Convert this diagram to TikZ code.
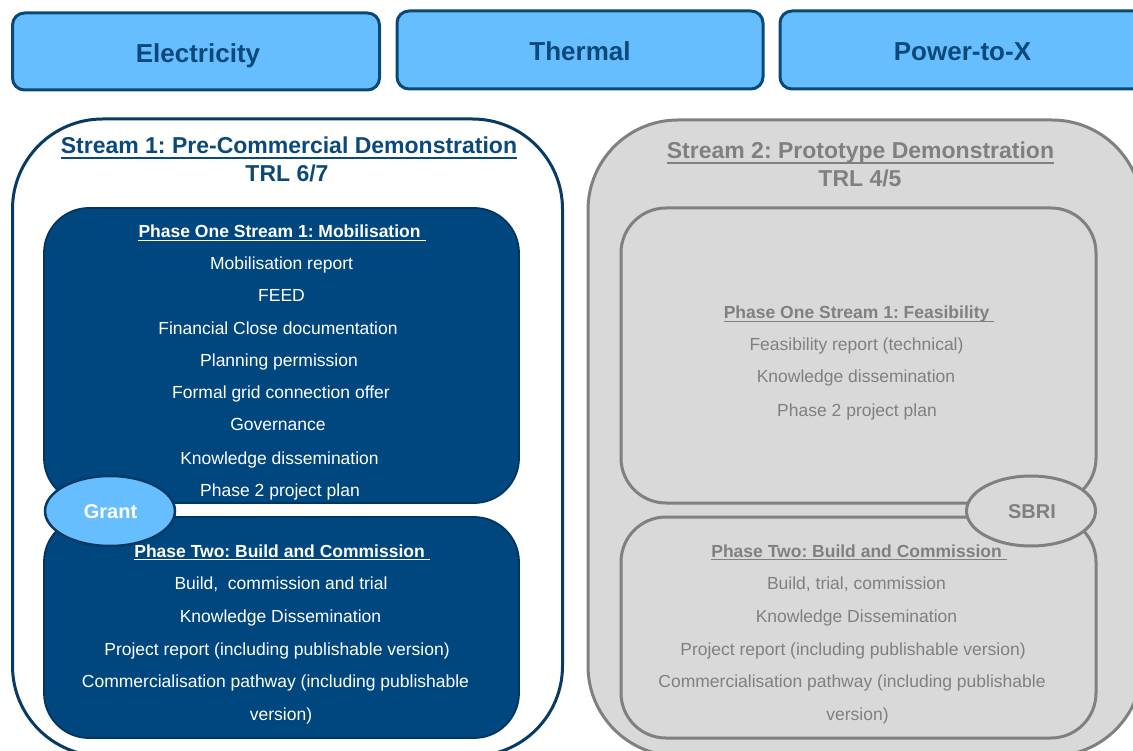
\documentclass[tikz,border=0pt]{standalone}
\usepackage{fontspec}
\setmainfont{Liberation Sans}
\usetikzlibrary{shapes.geometric}
\frenchspacing
\definecolor{lb}{RGB}{102,190,255}
\definecolor{topb}{RGB}{10,72,120}
\definecolor{ttxt}{RGB}{11,73,122}
\definecolor{dfill}{RGB}{0,71,127}
\definecolor{dbord}{RGB}{0,54,96}
\definecolor{sbord}{RGB}{8,58,99}
\definecolor{gfill}{RGB}{217,217,217}
\definecolor{gbord}{RGB}{128,128,128}
\definecolor{gtxt}{RGB}{128,128,128}
\tikzset{
  topbox/.style={draw=topb, line width=3pt, fill=lb, rounded corners=12pt, inner sep=0pt, minimum height=77pt},
  toplabel/.style={anchor=base, inner sep=0pt, text=ttxt, font=\fontsize{26}{30}\selectfont\bfseries},
  streambox/.style={line width=3pt, rounded corners=90pt, inner sep=0pt, minimum width=550pt, minimum height=637pt},
  phasebox/.style={rounded corners=45pt, inner sep=0pt, minimum width=475pt},
  darkphase/.style={phasebox, fill=dfill, draw=dbord, line width=1.8pt},
  grayphase/.style={phasebox, fill=gfill, draw=gbord, line width=3pt},
  stitle/.style={anchor=base, inner sep=0pt, font=\fontsize{23}{27}\selectfont\bfseries},
  item/.style={anchor=base, inner sep=0pt, font=\fontsize{17.5}{20}\selectfont},
  head/.style={item, font=\fontsize{17.5}{20}\selectfont\bfseries},
  wtxt/.style={text=white},
  gtx/.style={text=gtxt},
  oval/.style={ellipse, inner sep=0pt, minimum width=130pt, minimum height=70pt},
  ovallabel/.style={anchor=base, inner sep=0pt, font=\fontsize{20}{24}\selectfont\bfseries},
}
\begin{document}
\begin{tikzpicture}[x=1pt,y=-1pt]
\useasboundingbox (0,0) rectangle (1133,751);
\clip (0,0) rectangle (1133,751);
% top category boxes
\node[topbox, minimum width=367pt] (elec) at (196,51.5) {};
\node[topbox, minimum width=366pt, minimum height=78pt] (therm) at (580,50) {};
\node[topbox, minimum width=372pt, minimum height=78pt] (ptx) at (966,50) {};
\node[toplabel] (elecT) at (198,62.3) {Electricity};
\node[toplabel] (thermT) at (580,60.5) {Thermal};
\node[toplabel] (ptxT) at (962.5,60.5) {Power-to-X};
% stream containers
\node[streambox, draw=sbord, fill=white] (s1) at (287.5,437.5) {};
\node[streambox, draw=gbord, fill=gfill, minimum width=554pt, minimum height=636pt] (s2) at (865,438) {};
\node[stitle, text=ttxt] (s1t) at (289,154) {Stream 1: Pre-Commercial Demonstration};
\draw[ttxt, line width=2pt] ([yshift=-4pt]s1t.base west) -- ([yshift=-4pt]s1t.base east);
\node[stitle, text=ttxt] (s1r) at (287,182) {TRL 6/7};
\node[stitle, text=gtxt] (s2t) at (860.5,159) {Stream 2: Prototype Demonstration};
\draw[gtxt, line width=2pt] ([yshift=-4pt]s2t.base west) -- ([yshift=-4pt]s2t.base east);
\node[stitle, text=gtxt] (s2r) at (860,187) {TRL 4/5};
% phase boxes
\node[darkphase, minimum height=295pt] (p1a) at (281.5,355.5) {};
\node[darkphase, minimum height=221pt] (p2a) at (281.5,627.5) {};
\node[grayphase, minimum height=295pt] (p1b) at (858.5,355.5) {};
\node[grayphase, minimum height=221pt] (p2b) at (858.5,627.5) {};
% left phase one text
\node[head, wtxt] (h1a) at (282,238) {Phase One Stream 1: Mobilisation\ \ };
\draw[white, line width=1.4pt] ([yshift=-2.5pt]h1a.base west) -- ([yshift=-2.5pt]h1a.base east);
\node[item, wtxt] (a1) at (281.5,269.3) {Mobilisation report};
\node[item, wtxt] (a2) at (281.5,301.3) {FEED};
\node[item, wtxt] (a3) at (278,334.3) {Financial Close documentation};
\node[item, wtxt] (a4) at (279,366.3) {Planning permission};
\node[item, wtxt] (a5) at (281,398.3) {Formal grid connection offer};
\node[item, wtxt] (a6) at (278,430.3) {Governance};
\node[item, wtxt] (a7) at (279.5,464.5) {Knowledge dissemination};
\node[item, wtxt] (a8) at (280,496.5) {Phase 2 project plan};
% left phase two text
\node[head, wtxt] (h2a) at (282,557) {Phase Two: Build and Commission\ \ };
\draw[white, line width=1.4pt] ([yshift=-2.5pt]h2a.base west) -- ([yshift=-2.5pt]h2a.base east);
\node[item, wtxt] (b1) at (281,589) {Build, \ commission and trial};
\node[item, wtxt] (b2) at (280.5,622.5) {Knowledge Dissemination};
\node[item, wtxt] (b3) at (277,655) {Project report (including publishable version)};
\node[item, wtxt] (b4) at (275.5,687) {Commercialisation pathway (including publishable};
\node[item, wtxt] (b5) at (281,720.5) {version)};
% right phase one text
\node[head, gtx] (h1b) at (859,319) {Phase One Stream 1: Feasibility\ \ };
\draw[gtxt, line width=1.4pt] ([yshift=-2.5pt]h1b.base west) -- ([yshift=-2.5pt]h1b.base east);
\node[item, gtx] (c1) at (856.5,351) {Feasibility report (technical)};
\node[item, gtx] (c2) at (856,383) {Knowledge dissemination};
\node[item, gtx] (c3) at (857,416) {Phase 2 project plan};
% right phase two text
\node[head, gtx] (h2b) at (859,557) {Phase Two: Build and Commission\ \ };
\draw[gtxt, line width=1.4pt] ([yshift=-2.5pt]h2b.base west) -- ([yshift=-2.5pt]h2b.base east);
\node[item, gtx] (d1) at (856.5,589) {Build, trial, commission};
\node[item, gtx] (d2) at (856.5,622.5) {Knowledge Dissemination};
\node[item, gtx] (d3) at (853,655) {Project report (including publishable version)};
\node[item, gtx] (d4) at (852,687) {Commercialisation pathway (including publishable};
\node[item, gtx] (d5) at (857.5,720.5) {version)};
% funding ovals
\node[oval, draw=sbord, line width=2.5pt, fill=lb] (grant) at (110,511) {};
\node[ovallabel, text=white] (grantT) at (110.5,518) {Grant};
\node[oval, draw=gbord, line width=3pt, fill=gfill, minimum width=129pt] (sbri) at (1031,511) {};
\node[ovallabel, text=gtxt] (sbriT) at (1032,518) {SBRI};
\end{tikzpicture}
\end{document}
